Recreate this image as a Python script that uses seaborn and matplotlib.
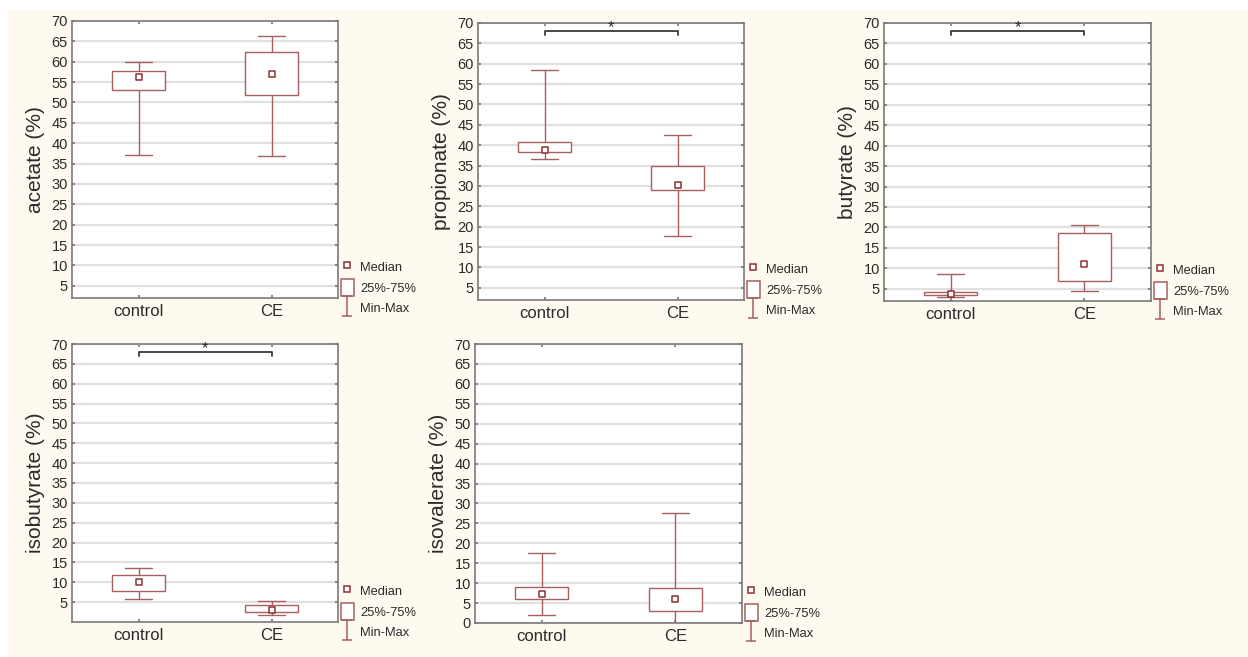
import numpy as np
import pandas as pd
import matplotlib
matplotlib.use("Agg")
import matplotlib.pyplot as plt
from matplotlib.patches import Rectangle, Patch
from matplotlib.lines import Line2D
from matplotlib.path import Path
import seaborn as sns

sns.set_theme(style="white")
plt.rcParams['font.family'] = ['Liberation Sans', 'DejaVu Sans']

groups = ["control", "CE"]

# five-number summaries: min, Q1, median, Q3, max
acetate_control = [37.1, 53.0, 56.3, 57.7, 59.9]
acetate_ce = [36.9, 51.8, 56.9, 62.3, 66.4]
propionate_control = [36.5, 38.4, 38.9, 40.9, 58.4]
propionate_ce = [17.7, 28.9, 30.2, 34.8, 42.4]
butyrate_control = [2.9, 3.4, 3.7, 4.2, 8.7]
butyrate_ce = [4.4, 6.8, 11.0, 18.6, 20.7]
isobutyrate_control = [5.8, 7.9, 10.1, 11.8, 13.7]
isobutyrate_ce = [1.7, 2.6, 3.0, 4.2, 5.4]
isovalerate_control = [2.0, 6.1, 7.4, 9.1, 17.5]
isovalerate_ce = [0.0, 3.0, 5.9, 8.8, 27.5]

ylabels = ["acetate (%)", "propionate (%)", "butyrate (%)", "isobutyrate (%)", "isovalerate (%)"]
significant = [False, True, True, True, False]
sig_y = 68.0
ylims = [(2, 70), (2, 70), (2, 70), (0, 70), (0, 70)]
yticks_list = [list(range(5, 71, 5))] * 4 + [list(range(0, 71, 5))]

panels = [
    (acetate_control, acetate_ce),
    (propionate_control, propionate_ce),
    (butyrate_control, butyrate_ce),
    (isobutyrate_control, isobutyrate_ce),
    (isovalerate_control, isovalerate_ce),
]

W, H = 1248, 657
fig = plt.figure(figsize=(W / 100, H / 100), dpi=100, facecolor="white")
fig.patches.append(Rectangle((8 / W, 0), 1 - 8 / W, 1 - 10 / H,
                             transform=fig.transFigure, facecolor="#FEFAF0",
                             edgecolor="none", zorder=-10))

# axes boxes in pixels: left, top, right, bottom
boxes_px = [
    (72, 21, 338, 298),
    (478, 23, 744, 300),
    (884, 23, 1151, 301),
    (72, 344, 338, 622),
    (475, 344, 742, 623),
]

edge = "#A66062"
med_edge = "#8E2F35"
spine_c = "#7A7A7A"
text_c = "#2B2B2B"

i_path = Path([(-0.5, 1), (0.5, 1), (0, 1), (0, -1), (-0.5, -1), (0.5, -1)],
              [Path.MOVETO, Path.LINETO, Path.MOVETO, Path.LINETO, Path.MOVETO, Path.LINETO])

for k, ((ctrl, ce), lab) in enumerate(zip(panels, ylabels)):
    l, t, r, b = boxes_px[k]
    ax = fig.add_axes([l / W, 1 - b / H, (r - l) / W, (b - t) / H])
    ax.set_facecolor("white")
    df = pd.DataFrame({
        "group": [groups[0]] * 5 + [groups[1]] * 5,
        "value": list(ctrl) + list(ce),
    })
    ax.set_ylim(*ylims[k])
    ax.set_yticks(yticks_list[k])
    ax.yaxis.grid(True, color="#E0E0E0", linewidth=1.6)
    ax.set_axisbelow(True)
    sns.boxplot(data=df, x="group", y="value", order=groups, whis=(0, 100),
                width=0.4, color="white", linecolor=edge, linewidth=1.0,
                showfliers=False, medianprops={"visible": False}, ax=ax,
                zorder=3)
    med_df = pd.DataFrame({"group": groups, "median": [ctrl[2], ce[2]]})
    sns.stripplot(data=med_df, x="group", y="median", order=groups, jitter=False,
                  marker="s", size=4.5, color="white", edgecolor=med_edge,
                  linewidth=1.1, ax=ax, zorder=5)
    ax.set_xlim(-0.5, 1.5)
    ax.set_ylim(*ylims[k])
    ax.set_xlabel("")
    ax.set_ylabel(lab, fontsize=15, color=text_c, labelpad=5)
    ax.tick_params(axis="y", labelsize=10.5, color=spine_c, labelcolor=text_c,
                   length=2, direction="in", left=True, right=True, pad=3)
    ax.tick_params(axis="x", labelsize=12, color=spine_c, labelcolor=text_c,
                   length=2.5, direction="in", top=True, bottom=True, pad=4)
    for s in ax.spines.values():
        s.set_color(spine_c)
        s.set_linewidth(1.2)
        s.set_visible(True)

    if significant[k]:
        ax.plot([0, 0, 1, 1], [sig_y - 0.9, sig_y, sig_y, sig_y - 0.9],
                color="#3A3A3A", linewidth=1.3, zorder=6)
        ax.text(0.5, sig_y + 0.9, "*", ha="center", va="center",
                fontsize=12, color="#2B2B2B")

    handles = [
        Line2D([], [], marker="s", markersize=4.5, linestyle="none",
               markerfacecolor="white", markeredgecolor=med_edge, markeredgewidth=1.1),
        Patch(facecolor="white", edgecolor=edge, linewidth=1.1),
        Line2D([], [], marker=i_path, markersize=14, linestyle="none",
               color=edge, markeredgewidth=1.1),
    ]
    leg = ax.legend(handles, ["Median", "25%-75%", "Min-Max"],
                    loc="lower left", bbox_to_anchor=(1.0, -0.075),
                    frameon=False, fontsize=9.3, handlelength=1.0,
                    handleheight=1.6, handletextpad=0.5, labelspacing=0.3,
                    borderpad=0.2, borderaxespad=0.0)
    for txt in leg.get_texts():
        txt.set_color(text_c)

fig.savefig("out.png", dpi=100, facecolor=fig.get_facecolor())
